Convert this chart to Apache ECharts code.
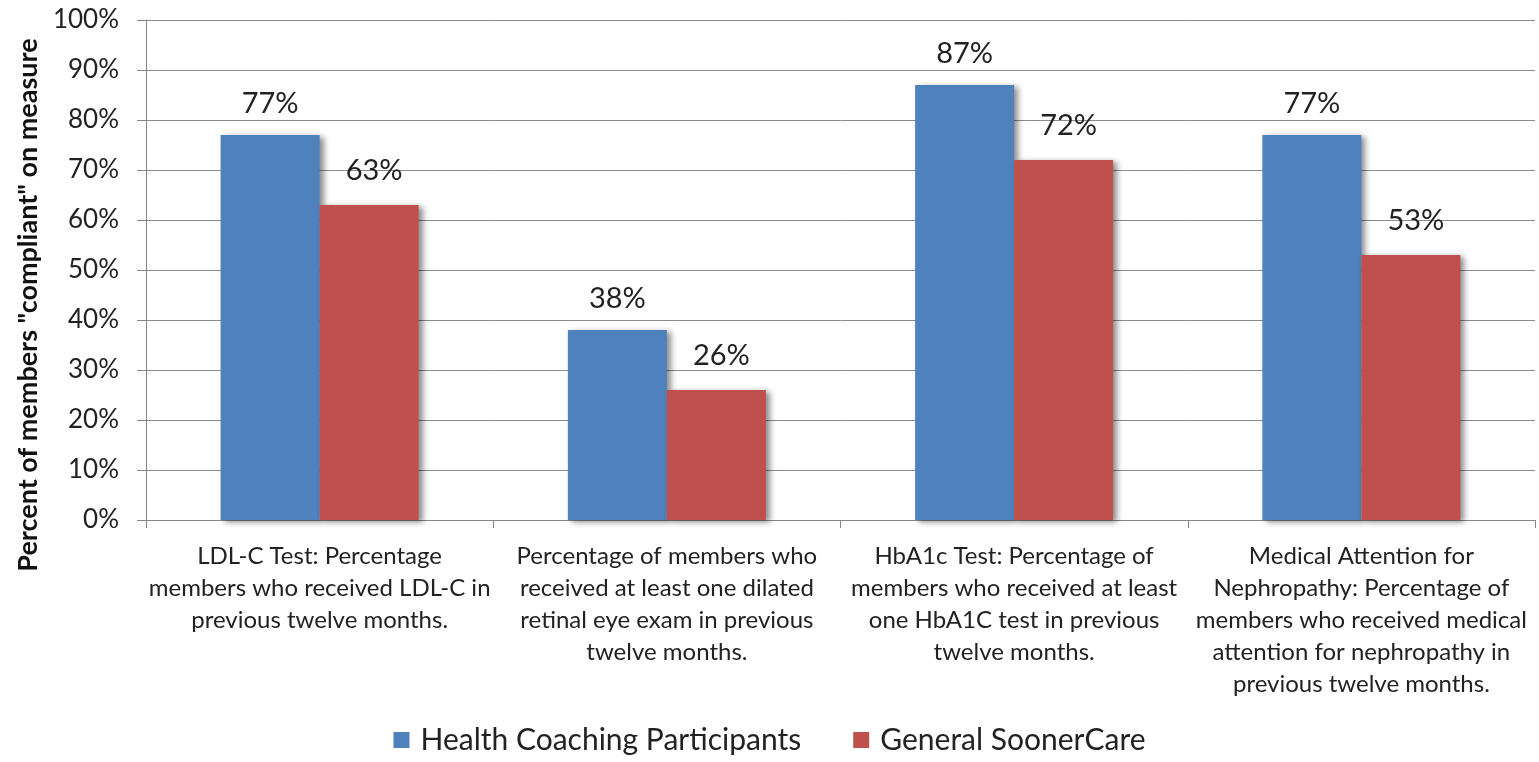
<!DOCTYPE html>
<html><head><meta charset="utf-8">
<script src="https://cdn.jsdelivr.net/npm/echarts@6/dist/echarts.min.js"></script>
<style>html,body{margin:0;padding:0;background:#fff}#c{width:1539px;height:762px}</style>
</head><body><div id="c"></div>
<script>
const categories = [
  "LDL-C Test: Percentage\nmembers who received LDL-C in\nprevious twelve months.",
  "Percentage of members who\nreceived at least one dilated\nretinal eye exam in previous\ntwelve months.",
  "HbA1c Test: Percentage of\nmembers who received at least\none HbA1C test in previous\ntwelve months.",
  "Medical Attention for\nNephropathy: Percentage of\nmembers who received medical\nattention for nephropathy in\nprevious twelve months."
];
const healthCoaching = [77, 38, 87, 77];
const generalSoonerCare = [63, 26, 72, 53];
const seriesNames = ["Health Coaching Participants", "General SoonerCare"];
const FONT = "Lato, 'Open Sans', sans-serif";
const chart = echarts.init(document.getElementById('c'));
const barShadow = {shadowColor:'rgba(0,0,0,0.45)', shadowBlur:6, shadowOffsetX:4, shadowOffsetY:2};
chart.setOption({
  animation:false,
  textStyle:{fontFamily:FONT},
  grid:{left:146, right:4, top:20, bottom:242},
  legend:{
    bottom:2, left:'center', itemWidth:16, itemHeight:16, itemGap:52,
    icon:'rect',
    textStyle:{fontSize:30, color:'#222', fontFamily:FONT, padding:[0,0,0,6]},
    data:seriesNames
  },
  xAxis:{
    type:'category', data:categories,
    axisLine:{lineStyle:{color:'#868686', width:1}},
    axisTick:{show:true, length:8, lineStyle:{color:'#868686'}},
    axisLabel:{fontSize:24, color:'#222', lineHeight:32, margin:20, interval:0, align:'center', fontFamily:FONT}
  },
  yAxis:{
    type:'value', min:0, max:100, interval:10,
    name:'Percent of members "compliant" on measure',
    nameLocation:'middle', nameGap:104, nameRotate:90,
    nameTextStyle:{fontSize:27, fontWeight:'bold', color:'#111', fontFamily:FONT, padding:[0,70,0,0]},
    axisLine:{show:true, lineStyle:{color:'#868686'}},
    axisTick:{show:true, length:9, lineStyle:{color:'#868686'}},
    axisLabel:{formatter:'{value}%', fontSize:26, color:'#222', margin:27, fontFamily:FONT},
    splitLine:{lineStyle:{color:'#8c8c8c', width:1}}
  },
  series:[
    {name:seriesNames[0], type:'bar', data:healthCoaching, barWidth:99, barGap:'0%',
     itemStyle:Object.assign({color:'#4F81BD'}, barShadow),
     label:{show:true, position:'top', distance:17, formatter:'{c}%', fontSize:29, color:'#222', fontFamily:FONT}},
    {name:seriesNames[1], type:'bar', data:generalSoonerCare, barWidth:99,
     itemStyle:Object.assign({color:'#C0504D'}, barShadow),
     label:{show:true, position:'top', distance:20, offset:[5,0], formatter:'{c}%', fontSize:29, color:'#222', fontFamily:FONT}}
  ]
});
</script></body></html>
